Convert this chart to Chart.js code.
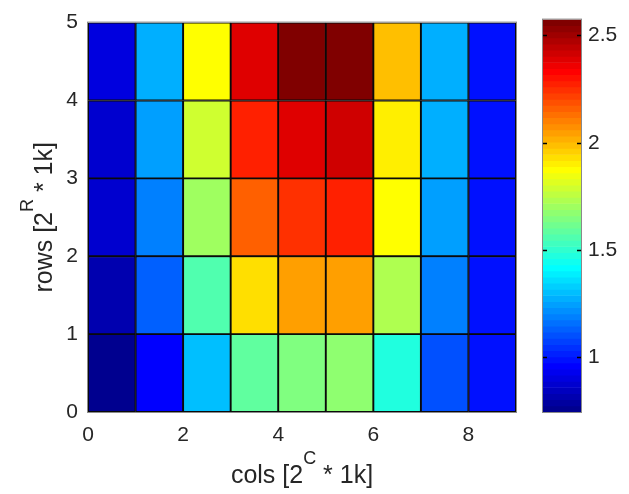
<!DOCTYPE html>
<html>
<head>
<meta charset="utf-8">
<script src="https://cdn.jsdelivr.net/npm/chart.js@4.4.1/dist/chart.umd.min.js"></script>
<style>
  html, body { margin: 0; padding: 0; background: #fff; }
  #wrap { position: relative; width: 629px; height: 494px; }
  #wrap canvas { position: absolute; left: 0; top: 0; }
</style>
</head>
<body>
<div id="wrap">
  <canvas id="heat" width="629" height="494"></canvas>
  <canvas id="cbar" width="629" height="494"></canvas>
</div>
<script>
// one array per row of cells, row0 is the bottom row (rows 0..1)
const row0 = [0.745, 0.959, 1.302, 1.588, 1.645, 1.674, 1.474, 1.102, 0.988];
const row1 = [0.816, 1.131, 1.559, 1.931, 2.045, 2.045, 1.731, 1.188, 0.988];
const row2 = [0.874, 1.188, 1.702, 2.160, 2.245, 2.274, 1.874, 1.245, 0.988];
const row3 = [0.874, 1.245, 1.788, 2.274, 2.388, 2.417, 1.902, 1.274, 0.988];
const row4 = [0.902, 1.274, 1.874, 2.388, 2.574, 2.560, 1.988, 1.274, 0.988];
const rows = [row0, row1, row2, row3, row4];

const xTicks = [0, 2, 4, 6, 8];
const yTicks = [0, 1, 2, 3, 4, 5];
const cbTicks = [1, 1.5, 2, 2.5];

// [text, isSuperscript]
const xTitle = [["cols [2", false], ["C", true], [" * 1k]", false]];
const yTitle = [["rows [2", false], ["R", true], [" * 1k]", false]];

const FONT = "'Liberation Sans', Arial, sans-serif";
const TEXT = "#262626";
const N_COLORS = 64;

const vMin = Math.min(...rows.flat());
const vMax = Math.max(...rows.flat());

// matlab style scaled colour index, 1..64
function jetIndex(v) {
  const k = Math.floor((v - vMin) / (vMax - vMin) * N_COLORS) + 1;
  return Math.max(1, Math.min(N_COLORS, k));
}

// jet(64) entry k
function jet(k) {
  const c = (a) => Math.round(Math.max(0, Math.min(1, a / 16)) * 255);
  const r = c(Math.min(k - 24, 72 - k));
  const g = c(Math.min(k - 8, 56 - k));
  const b = c(Math.min(k + 8, 40 - k));
  return `rgb(${r},${g},${b})`;
}

function drawRich(ctx, parts, x, y, size) {
  const supSize = Math.round(size * 0.72);
  let total = 0;
  for (const [t, sup] of parts) {
    ctx.font = `${sup ? supSize : size}px ${FONT}`;
    total += ctx.measureText(t).width;
  }
  let cx = x - total / 2;
  ctx.fillStyle = TEXT;
  ctx.textBaseline = "alphabetic";
  ctx.textAlign = "left";
  for (const [t, sup] of parts) {
    ctx.font = `${sup ? supSize : size}px ${FONT}`;
    ctx.fillText(t, cx, sup ? y - size * 0.78 : y);
    cx += ctx.measureText(t).width;
  }
}

const frame = {
  id: "frame",
  afterDraw(chart) {
    const { ctx, chartArea: a } = chart;
    ctx.save();
    ctx.strokeStyle = "#8a8a8a";
    ctx.lineWidth = 1;
    ctx.strokeRect(a.left - 0.5, a.top - 0.5, a.right - a.left + 1, a.bottom - a.top + 1);
    ctx.restore();
  }
};

const titles = {
  id: "titles",
  afterDraw(chart) {
    const { ctx, chartArea: a } = chart;
    ctx.save();
    drawRich(ctx, xTitle, (a.left + a.right) / 2, 483, 25);
    ctx.translate(52, (a.top + a.bottom) / 2);
    ctx.rotate(-Math.PI / 2);
    drawRich(ctx, yTitle, 0, 0, 25);
    ctx.restore();
  }
};

// little inner tick marks on the colour bar
const cbMarks = {
  id: "cbMarks",
  afterDatasetsDraw(chart) {
    const { ctx, chartArea: a } = chart;
    const s = chart.scales.y;
    ctx.save();
    ctx.strokeStyle = "#000";
    ctx.lineWidth = 1.5;
    for (const t of cbTicks) {
      const y = Math.round(s.getPixelForValue(t)) + 0.5;
      ctx.beginPath();
      ctx.moveTo(a.left, y); ctx.lineTo(a.left + 4, y);
      ctx.moveTo(a.right - 4, y); ctx.lineTo(a.right, y);
      ctx.stroke();
    }
    ctx.restore();
  }
};

Chart.defaults.font.family = FONT;
Chart.defaults.font.size = 21;
Chart.defaults.color = TEXT;

new Chart(document.getElementById("heat"), {
  type: "bar",
  data: {
    datasets: rows.map((vals, r) => ({
      data: vals.map((v, c) => ({ x: c + 0.5, y: [r, r + 1], v: v })),
      backgroundColor: (ctx) => (ctx.raw ? jet(jetIndex(ctx.raw.v)) : "#000"),
      borderColor: "#0a0a0a",
      borderWidth: 1.3,
      borderSkipped: false,
      grouped: false,
      barPercentage: 1,
      categoryPercentage: 1,
    })),
  },
  options: {
    responsive: false,
    animation: false,
    events: [],
    layout: { padding: { left: 0, right: 113, top: 16, bottom: 0 } },
    plugins: { legend: { display: false }, tooltip: { enabled: false } },
    scales: {
      x: {
        type: "linear",
        min: 0,
        max: 9,
        offset: false,
        grid: { display: false, drawTicks: false },
        border: { display: false },
        ticks: { padding: 11, callback: (v) => String(v) },
        afterBuildTicks: (s) => { s.ticks = xTicks.map((value) => ({ value })); },
        afterFit: (s) => { s.height = 82; },
      },
      y: {
        type: "linear",
        min: 0,
        max: 5,
        grid: { display: false, drawTicks: false },
        border: { display: false },
        ticks: { padding: 10, callback: (v) => String(v) },
        afterBuildTicks: (s) => { s.ticks = yTicks.map((value) => ({ value })); },
        afterFit: (s) => { s.width = 88; },
      },
    },
  },
  plugins: [frame, titles],
});

// colour bar: one band per colormap entry
const step = (vMax - vMin) / N_COLORS;
const bands = [];
for (let k = 1; k <= N_COLORS; k++) {
  bands.push({ x: "cb", y: [vMin + (k - 1) * step, vMin + k * step], k: k });
}

new Chart(document.getElementById("cbar"), {
  type: "bar",
  data: {
    labels: ["cb"],
    datasets: [{
      data: bands,
      backgroundColor: (ctx) => (ctx.raw ? jet(ctx.raw.k) : "#000"),
      borderWidth: 0,
      grouped: false,
      barPercentage: 1,
      categoryPercentage: 1,
    }],
  },
  options: {
    responsive: false,
    animation: false,
    events: [],
    layout: { padding: { left: 543, right: 0, top: 16, bottom: 82 } },
    plugins: { legend: { display: false }, tooltip: { enabled: false } },
    scales: {
      x: { type: "category", display: false },
      y: {
        type: "linear",
        position: "right",
        min: vMin,
        max: vMax,
        grid: { display: false, drawTicks: false },
        border: { display: false },
        ticks: { padding: 7, callback: (v) => String(v) },
        afterBuildTicks: (s) => { s.ticks = cbTicks.map((value) => ({ value })); },
        afterFit: (s) => { s.width = 48; },
      },
    },
  },
  plugins: [cbMarks, frame],
});
</script>
</body>
</html>
